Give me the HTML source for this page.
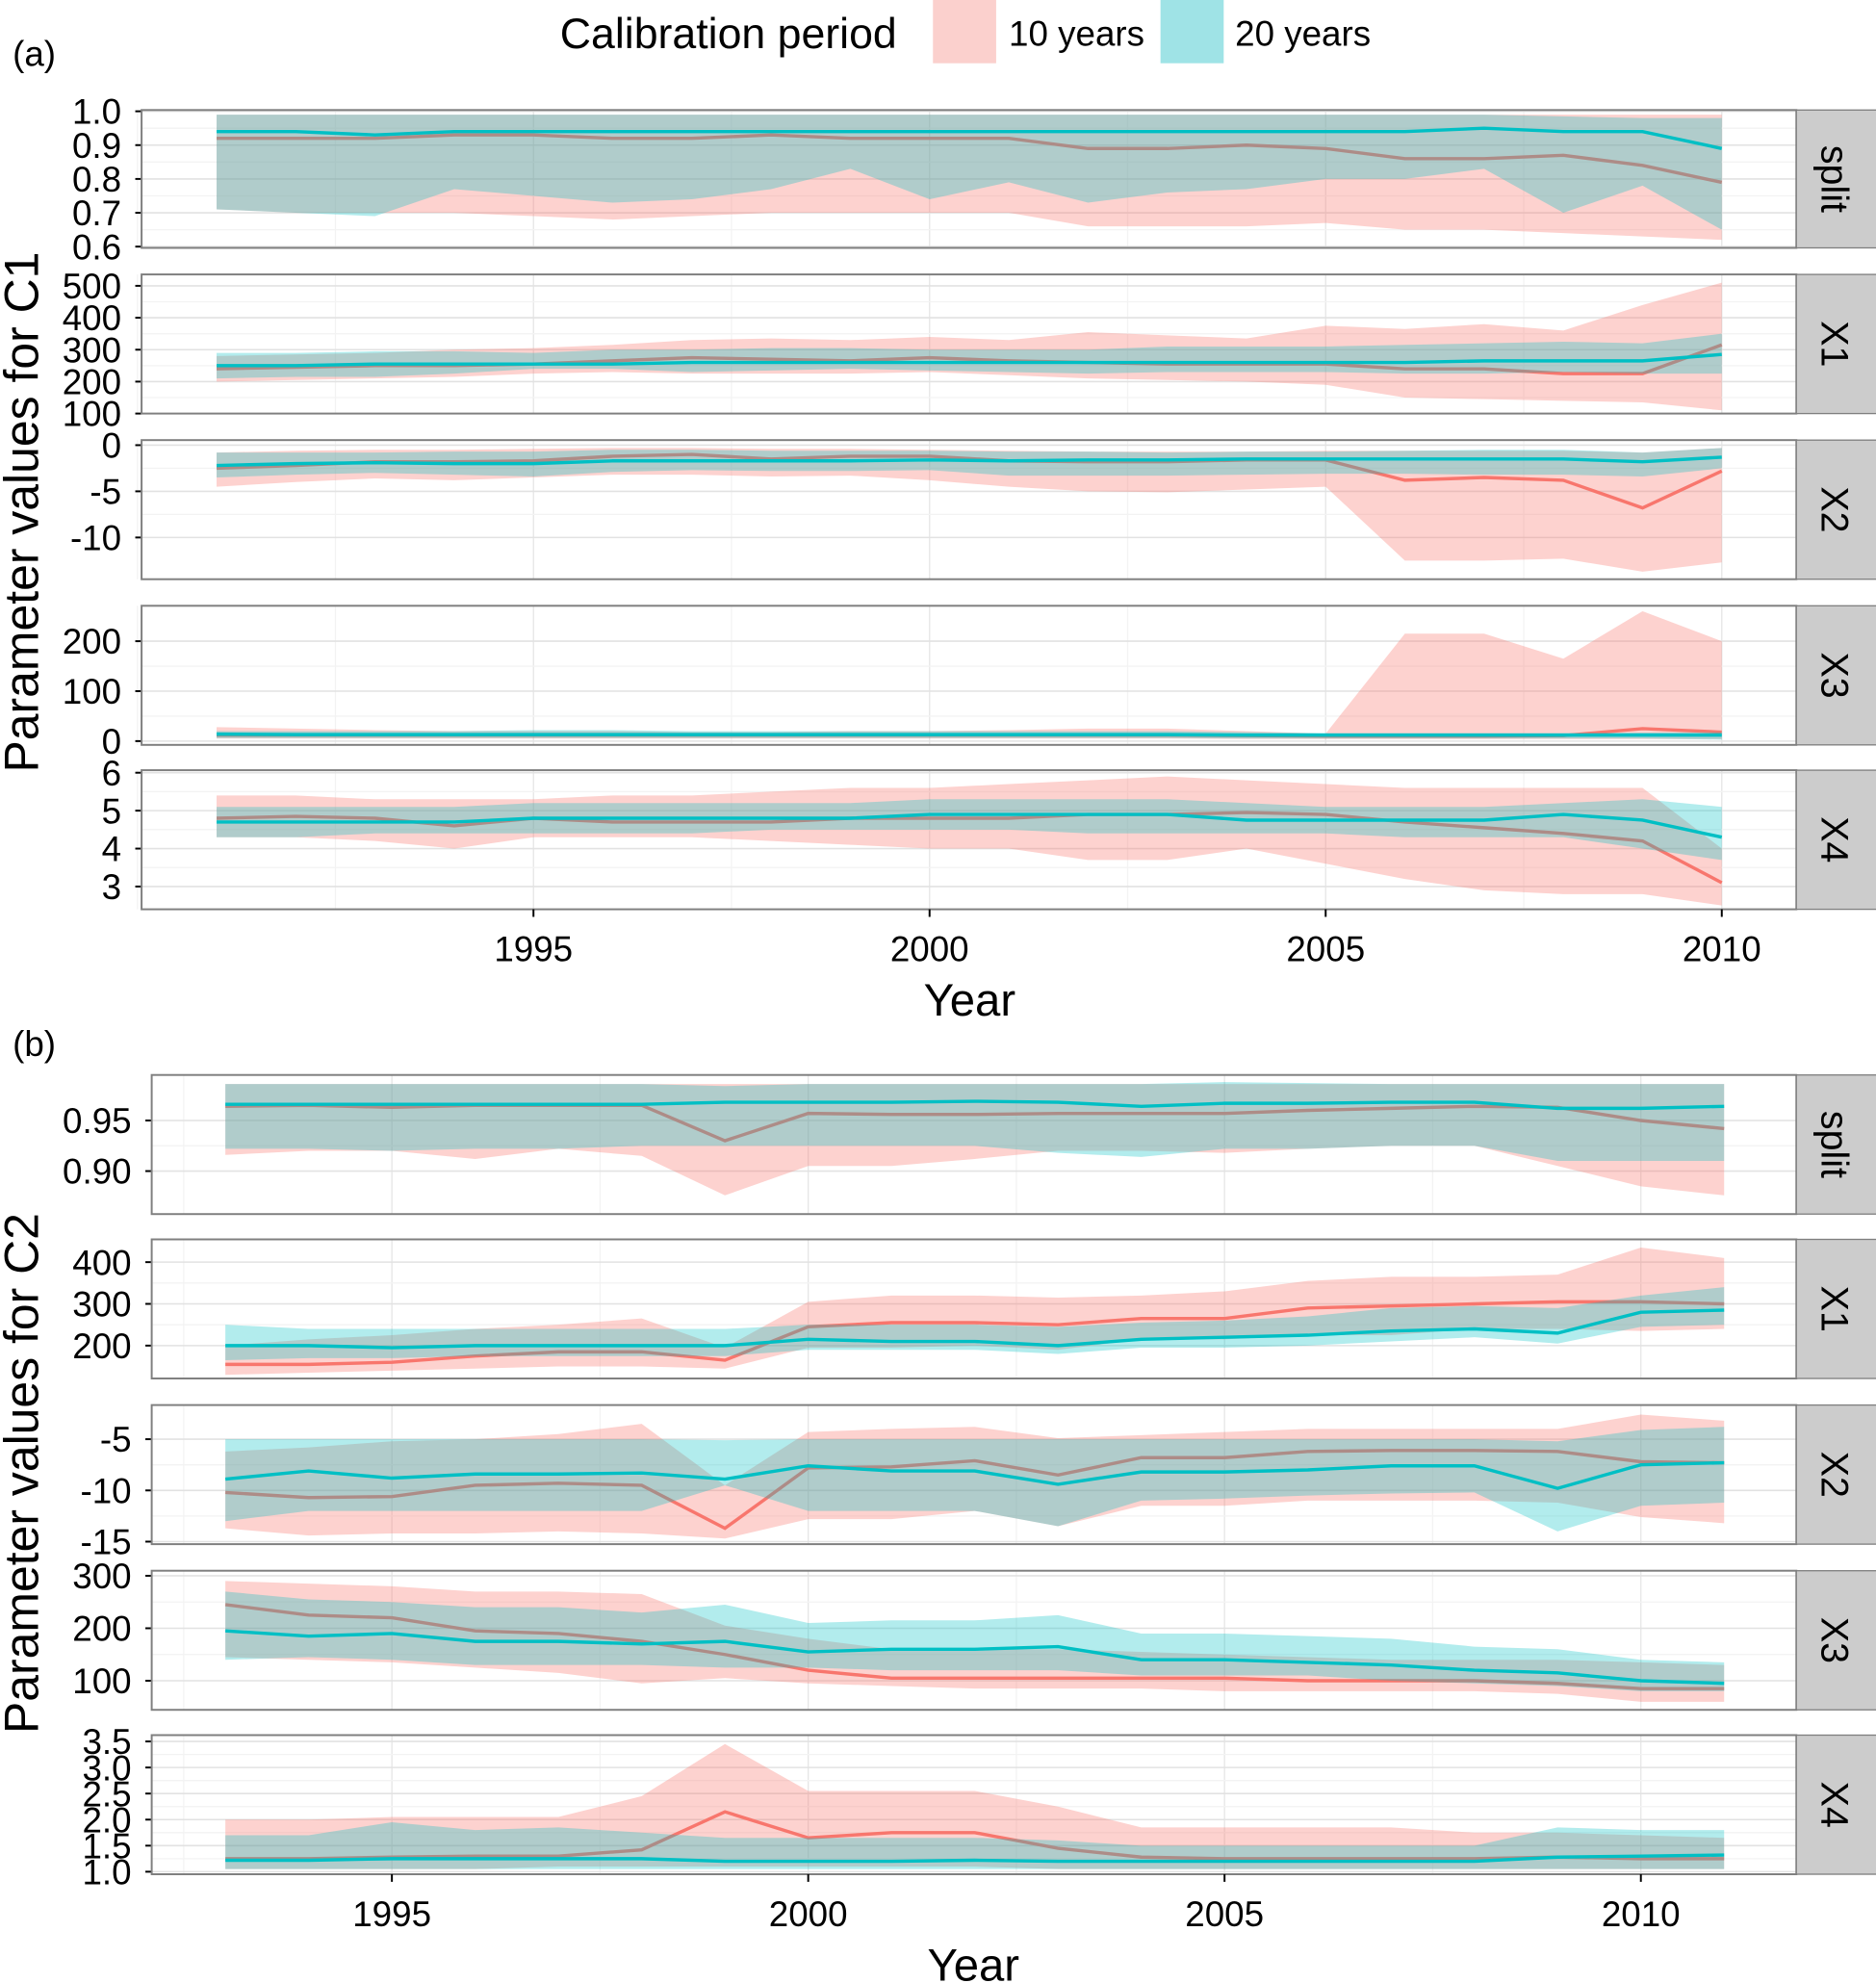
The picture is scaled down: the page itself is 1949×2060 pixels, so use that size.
<!DOCTYPE html>
<html><head><meta charset="utf-8"><style>
html,body{margin:0;padding:0;background:#fff}
svg{display:block}
text{font-family:"Liberation Sans",sans-serif;fill:#000}
</style></head><body>
<svg id="chart" width="1949" height="2060" viewBox="0 0 1484 1568" preserveAspectRatio="none" xmlns="http://www.w3.org/2000/svg">
<g>
<text x="443" y="38" font-size="34">Calibration period</text>
<rect x="738" y="0" width="50" height="50" fill="#fbd0cd"/>
<text x="798" y="36" font-size="28">10 years</text>
<rect x="918" y="0" width="50" height="50" fill="#9fe3e6"/>
<text x="977" y="36" font-size="28">20 years</text>
</g>
<text x="10" y="52" font-size="28">(a)</text>
<text x="10" y="835" font-size="28">(b)</text>
<text transform="translate(30,405) rotate(-90)" text-anchor="middle" font-size="38">Parameter values for C1</text>
<text transform="translate(30,1165) rotate(-90)" text-anchor="middle" font-size="38">Parameter values for C2</text>
<text x="767" y="803" text-anchor="middle" font-size="36">Year</text>
<text x="770" y="1566" text-anchor="middle" font-size="36">Year</text>
</svg>
<script>
// ---- Data (a): years 1991..2010 ----
const yearsA = [1991,1992,1993,1994,1995,1996,1997,1998,1999,2000,2001,2002,2003,2004,2005,2006,2007,2008,2009,2010];
const aSplitRed = [0.92,0.92,0.92,0.93,0.93,0.92,0.92,0.93,0.92,0.92,0.92,0.89,0.89,0.90,0.89,0.86,0.86,0.87,0.84,0.79];
const aSplitBlue = [0.94,0.94,0.93,0.94,0.94,0.94,0.94,0.94,0.94,0.94,0.94,0.94,0.94,0.94,0.94,0.94,0.95,0.94,0.94,0.89];
const aSplitRedHi = [0.99,0.99,0.99,0.99,0.99,0.99,0.99,0.99,0.99,0.99,0.99,0.99,0.99,0.99,0.99,0.99,0.99,0.99,0.99,0.99];
const aSplitRedLo = [0.71,0.70,0.70,0.70,0.69,0.68,0.69,0.70,0.70,0.70,0.70,0.66,0.66,0.66,0.67,0.65,0.65,0.64,0.63,0.62];
const aSplitBlueHi = [0.99,0.99,0.99,0.99,0.99,0.99,0.99,0.99,0.99,0.99,0.99,0.99,0.99,0.99,0.99,0.99,0.99,0.985,0.98,0.98];
const aSplitBlueLo = [0.71,0.70,0.69,0.77,0.75,0.73,0.74,0.77,0.83,0.74,0.79,0.73,0.76,0.77,0.80,0.80,0.83,0.70,0.78,0.65];

const aX1Red = [240,245,250,250,255,265,275,270,265,275,265,260,255,255,255,240,240,225,225,315];
const aX1Blue = [250,250,255,255,255,255,260,260,260,260,260,260,260,260,260,260,265,265,265,285];
const aX1RedHi = [280,285,290,300,305,315,330,335,330,340,330,355,345,335,375,365,380,360,440,510];
const aX1RedLo = [200,205,210,215,225,230,225,225,225,230,220,210,205,200,190,150,145,140,135,110];
const aX1BlueHi = [290,290,295,295,290,300,300,305,305,300,300,300,310,310,310,315,320,325,320,350];
const aX1BlueLo = [210,215,215,225,240,240,230,235,240,235,230,225,230,230,230,225,225,230,225,225];

const aX2Red = [-2.5,-2.2,-1.8,-1.8,-1.7,-1.2,-1.0,-1.5,-1.2,-1.2,-1.7,-1.8,-1.8,-1.6,-1.6,-3.8,-3.5,-3.8,-6.8,-2.8];
const aX2Blue = [-2.2,-2.0,-1.9,-2.0,-2.0,-1.7,-1.7,-1.7,-1.7,-1.6,-1.7,-1.6,-1.6,-1.5,-1.5,-1.5,-1.5,-1.5,-1.8,-1.3];
const aX2RedHi = [-0.8,-0.6,-0.5,-0.5,-0.4,-0.3,-0.3,-0.4,-0.4,-0.5,-0.6,-0.7,-0.7,-0.7,-0.6,-0.6,-0.6,-0.6,-0.8,-0.3];
const aX2RedLo = [-4.5,-4.0,-3.6,-3.8,-3.5,-3.2,-3.2,-3.4,-3.3,-3.8,-4.5,-5.0,-5.1,-4.8,-4.5,-12.5,-12.5,-12.3,-13.7,-12.7];
const aX2BlueHi = [-0.8,-0.8,-0.8,-0.7,-0.7,-0.5,-0.5,-0.6,-0.6,-0.6,-0.7,-0.7,-0.8,-0.7,-0.7,-0.6,-0.5,-0.5,-0.8,-0.3];
const aX2BlueLo = [-3.5,-3.2,-3.0,-3.2,-3.4,-2.9,-2.7,-2.8,-2.8,-2.7,-3.3,-3.3,-3.3,-3.2,-3.1,-3.1,-3.2,-3.2,-3.4,-2.5];

const aX3Red = [12,12,12,12,12,12,12,12,12,12,12,12,12,11,10,10,10,11,25,18];
const aX3Blue = [14,13,13,13,13,13,13,13,13,13,13,13,13,12,12,12,12,12,12,12];
const aX3RedHi = [28,25,22,20,20,20,18,18,20,20,22,25,25,20,15,215,215,165,260,200];
const aX3RedLo = [5,5,5,5,5,5,5,5,5,5,5,5,5,4,4,4,4,4,4,4];
const aX3BlueHi = [20,20,20,20,22,22,20,20,20,20,20,20,20,18,16,16,16,16,17,18];
const aX3BlueLo = [6,6,6,6,6,6,6,6,6,6,6,6,6,5,5,5,5,5,5,3];

const aX4Red = [4.8,4.85,4.8,4.6,4.8,4.7,4.7,4.7,4.8,4.8,4.8,4.9,4.9,4.95,4.9,4.7,4.55,4.4,4.2,3.1];
const aX4Blue = [4.7,4.7,4.7,4.7,4.8,4.8,4.8,4.8,4.8,4.9,4.9,4.9,4.9,4.75,4.75,4.75,4.75,4.9,4.75,4.3];
const aX4RedHi = [5.4,5.4,5.3,5.3,5.3,5.4,5.4,5.5,5.6,5.6,5.7,5.8,5.9,5.8,5.7,5.6,5.6,5.6,5.6,4.0];
const aX4RedLo = [4.3,4.3,4.2,4.0,4.3,4.3,4.3,4.2,4.1,4.0,4.0,3.7,3.7,4.0,3.6,3.2,2.9,2.8,2.8,2.5];
const aX4BlueHi = [5.1,5.1,5.1,5.1,5.2,5.2,5.2,5.2,5.2,5.3,5.3,5.3,5.3,5.2,5.1,5.1,5.1,5.2,5.3,5.1];
const aX4BlueLo = [4.3,4.3,4.4,4.4,4.4,4.4,4.4,4.5,4.5,4.5,4.5,4.4,4.4,4.4,4.4,4.3,4.3,4.3,4.0,3.7];

// ---- Data (b): years 1993..2011 ----
const yearsB = [1993,1994,1995,1996,1997,1998,1999,2000,2001,2002,2003,2004,2005,2006,2007,2008,2009,2010,2011];
const bSplitRed = [0.964,0.965,0.963,0.965,0.965,0.965,0.930,0.957,0.956,0.956,0.957,0.957,0.957,0.960,0.962,0.964,0.963,0.950,0.942];
const bSplitBlue = [0.966,0.966,0.966,0.966,0.966,0.966,0.968,0.968,0.968,0.969,0.968,0.964,0.967,0.967,0.968,0.968,0.962,0.962,0.964];
const bSplitRedHi = [0.986,0.986,0.986,0.986,0.986,0.986,0.986,0.986,0.986,0.986,0.986,0.986,0.986,0.986,0.986,0.986,0.986,0.986,0.986];
const bSplitRedLo = [0.916,0.920,0.920,0.912,0.922,0.915,0.876,0.905,0.905,0.912,0.920,0.920,0.918,0.922,0.925,0.925,0.905,0.885,0.876];
const bSplitBlueHi = [0.986,0.986,0.986,0.986,0.986,0.986,0.984,0.986,0.986,0.986,0.986,0.986,0.988,0.987,0.986,0.986,0.986,0.986,0.986];
const bSplitBlueLo = [0.922,0.922,0.920,0.922,0.922,0.925,0.925,0.925,0.925,0.925,0.918,0.914,0.922,0.922,0.925,0.925,0.910,0.910,0.910];

const bX1Red = [155,155,160,175,185,185,165,245,255,255,250,265,265,290,295,300,305,305,300];
const bX1Blue = [200,200,195,200,200,200,200,215,210,210,200,215,220,225,235,240,230,280,285];
const bX1RedHi = [200,215,225,240,250,265,195,305,320,320,315,320,330,355,365,365,370,435,410];
const bX1RedLo = [130,135,140,145,150,150,145,195,195,200,190,215,215,225,225,240,240,235,240];
const bX1BlueHi = [250,240,240,240,240,240,240,250,250,250,245,255,260,270,290,295,290,320,340];
const bX1BlueLo = [165,170,170,175,175,175,175,190,190,190,180,195,195,200,210,220,205,245,250];

const bX2Red = [-10.2,-10.7,-10.6,-9.5,-9.3,-9.5,-13.7,-7.8,-7.7,-7.1,-8.5,-6.8,-6.8,-6.2,-6.1,-6.1,-6.2,-7.2,-7.3];
const bX2Blue = [-8.9,-8.1,-8.8,-8.4,-8.4,-8.3,-8.9,-7.6,-8.1,-8.1,-9.4,-8.2,-8.2,-8.0,-7.6,-7.6,-9.8,-7.5,-7.3];
const bX2RedHi = [-6.2,-5.8,-5.2,-5.0,-4.5,-3.5,-9.5,-4.3,-4.0,-3.8,-4.9,-4.6,-4.3,-4.0,-4.0,-4.0,-4.0,-2.6,-3.2];
const bX2RedLo = [-13.7,-14.4,-14.2,-14.2,-14.0,-14.2,-14.7,-12.8,-12.8,-12.0,-13.5,-11.5,-11.5,-11.0,-11.0,-11.0,-11.2,-12.6,-13.2];
const bX2BlueHi = [-5.0,-5.0,-5.0,-5.0,-5.0,-5.0,-5.1,-5.0,-5.0,-5.0,-5.0,-5.0,-5.0,-5.0,-5.0,-5.0,-5.2,-4.1,-3.8];
const bX2BlueLo = [-13.0,-12.0,-12.0,-12.0,-12.0,-12.0,-9.5,-12.0,-12.0,-12.0,-13.5,-11.0,-10.8,-10.5,-10.3,-10.2,-14.0,-11.5,-11.2];

const bX3Red = [245,225,220,195,190,175,150,120,105,105,105,105,105,100,100,100,95,85,85];
const bX3Blue = [195,185,190,175,175,170,175,155,160,160,165,140,140,135,130,120,115,100,95];
const bX3RedHi = [290,285,280,270,270,265,205,180,160,160,160,155,150,145,140,140,140,135,130];
const bX3RedLo = [145,140,135,125,115,95,105,95,90,85,85,85,80,80,80,80,75,60,60];
const bX3BlueHi = [270,255,250,240,240,230,245,210,215,215,225,190,190,185,180,165,160,140,135];
const bX3BlueLo = [140,145,140,130,130,130,125,125,120,120,120,110,110,110,100,95,90,80,80];

const bX4Red = [1.25,1.25,1.28,1.3,1.3,1.42,2.15,1.65,1.75,1.75,1.45,1.28,1.25,1.25,1.25,1.25,1.28,1.25,1.25];
const bX4Blue = [1.22,1.22,1.25,1.25,1.25,1.25,1.2,1.2,1.2,1.22,1.2,1.2,1.2,1.2,1.2,1.2,1.28,1.3,1.32];
const bX4RedHi = [2.0,2.0,2.05,2.05,2.05,2.45,3.45,2.55,2.55,2.55,2.25,1.85,1.85,1.85,1.85,1.75,1.75,1.70,1.65];
const bX4RedLo = [1.05,1.05,1.05,1.05,1.1,1.1,1.1,1.1,1.1,1.1,1.05,1.05,1.05,1.05,1.05,1.05,1.05,1.05,1.05];
const bX4BlueHi = [1.7,1.7,1.95,1.8,1.85,1.75,1.65,1.65,1.65,1.65,1.6,1.5,1.5,1.5,1.5,1.5,1.85,1.8,1.8];
const bX4BlueLo = [1.05,1.05,1.05,1.05,1.05,1.05,1.05,1.05,1.05,1.05,1.05,1.05,1.05,1.05,1.05,1.05,1.05,1.05,1.05];

const xTicks = [1995,2000,2005,2010];
const aSplitTicks = [0.6,0.7,0.8,0.9,1.0];
const aX1Ticks = [100,200,300,400,500];
const aX2Ticks = [-10,-5,0];
const aX3Ticks = [0,100,200];
const aX4Ticks = [3,4,5,6];
const bSplitTicks = [0.90,0.95];
const bX1Ticks = [200,300,400];
const bX2Ticks = [-15,-10,-5];
const bX3Ticks = [100,200,300];
const bX4Ticks = [1.0,1.5,2.0,2.5,3.0,3.5];

const NS = "http://www.w3.org/2000/svg";
const svg = document.getElementById('chart');
function mk(tag, attrs, parent){const e=document.createElementNS(NS,tag);for(const k in attrs)e.setAttribute(k,attrs[k]);(parent||svg).appendChild(e);return e;}

function panel(cfg){
  const g = mk('g',{});
  
  
  const {x0,x1,y0,y1,xs,ys} = cfg;
  mk('rect',{x:x0,y:y0,width:x1-x0,height:y1-y0,fill:'#fff'},g);
  const gx=[]; for(let yr=cfg.xmin;yr<=cfg.xmax;yr+=2.5) gx.push(yr);
  gx.forEach(v=>{mk('line',{x1:xs(v),x2:xs(v),y1:y0,y2:y1,stroke:xTicks.includes(v)?'#e6e6e6':'#f3f3f3','stroke-width':1},g);});
  const t=cfg.ticks;
  for(let i=0;i<t.length-1;i++){const m=(t[i]+t[i+1])/2;mk('line',{x1:x0,x2:x1,y1:ys(m),y2:ys(m),stroke:'#f3f3f3','stroke-width':1},g);}
  t.forEach(v=>{
    mk('line',{x1:x0,x2:x1,y1:ys(v),y2:ys(v),stroke:'#e2e2e2','stroke-width':1.2},g);
    mk('line',{x1:x0-5,x2:x0,y1:ys(v),y2:ys(v),stroke:'#000','stroke-width':1.5},g);
    const tl=mk('text',{x:x0-16,y:ys(v)+10,'text-anchor':'end','font-size':28},g);
    tl.textContent = cfg.fmt(v);
    
    
  });
  const yrs=cfg.years;
  function band(hi,lo,fill,op,name){
    let d='M'+yrs.map((y,i)=>xs(y)+','+ys(hi[i])).join('L');
    d+='L'+yrs.slice().reverse().map((y,k)=>xs(y)+','+ys(lo[yrs.length-1-k])).join('L')+'Z';
    const p=mk('path',{d:d,fill:fill,'fill-opacity':op},g);
    
    
  }
  function line(v,col,name){
    const p=mk('path',{d:'M'+yrs.map((y,i)=>xs(y)+','+ys(v[i])).join('L'),fill:'none',stroke:col,'stroke-width':2.6},g);
    
    
  }
  band(cfg.rh,cfg.rl,'#F8766D',0.33,'ribbon-10-years');
  line(cfg.r,'#F8766D','line-10-years');
  band(cfg.bh,cfg.bl,'#00BFC4',0.3,'ribbon-20-years');
  line(cfg.b,'#00BFC4','line-20-years');
  mk('rect',{x:x0,y:y0,width:x1-x0,height:y1-y0,fill:'none',stroke:'#7f7f7f','stroke-width':1.5},g);
  const s=mk('rect',{x:x1,y:y0,width:1484-x1+2,height:y1-y0,fill:'#cccccc',stroke:'#7f7f7f','stroke-width':1},g);
  
  
  const st=mk('text',{transform:'translate('+(x1+20)+','+((y0+y1)/2)+') rotate(90)','text-anchor':'middle','font-size':30},g);
  st.textContent=cfg.label;
  
  
}

function lin(d0,d1,r0,r1){return v=>r0+(v-d0)*(r1-r0)/(d1-d0);}
const xsA = lin(1995,2010,422,1362);
const xsB = lin(1995,2010,310,1298);
const f1=v=>v.toFixed(1), f2=v=>v.toFixed(2), f0=v=>String(v);
const A={x0:112,x1:1421,xs:xsA,years:yearsA,xmin:1990,xmax:2012.5};
const B={x0:120,x1:1421,xs:xsB,years:yearsB,xmin:1992.5,xmax:2012.5};
const panels=[
 Object.assign({},A,{id:'a-split',label:'split',y0:87,y1:196,ys:lin(0.6,1.0,195,88),ticks:aSplitTicks,fmt:f1,r:aSplitRed,b:aSplitBlue,rh:aSplitRedHi,rl:aSplitRedLo,bh:aSplitBlueHi,bl:aSplitBlueLo}),
 Object.assign({},A,{id:'a-x1',label:'X1',y0:217,y1:327,ys:lin(100,500,327,226),ticks:aX1Ticks,fmt:f0,r:aX1Red,b:aX1Blue,rh:aX1RedHi,rl:aX1RedLo,bh:aX1BlueHi,bl:aX1BlueLo}),
 Object.assign({},A,{id:'a-x2',label:'X2',y0:348,y1:458,ys:lin(-10,0,425,352),ticks:aX2Ticks,fmt:f0,r:aX2Red,b:aX2Blue,rh:aX2RedHi,rl:aX2RedLo,bh:aX2BlueHi,bl:aX2BlueLo}),
 Object.assign({},A,{id:'a-x3',label:'X3',y0:479,y1:589,ys:lin(0,200,586,507),ticks:aX3Ticks,fmt:f0,r:aX3Red,b:aX3Blue,rh:aX3RedHi,rl:aX3RedLo,bh:aX3BlueHi,bl:aX3BlueLo}),
 Object.assign({},A,{id:'a-x4',label:'X4',y0:609,y1:719,ys:lin(3,6,701,611),ticks:aX4Ticks,fmt:f0,r:aX4Red,b:aX4Blue,rh:aX4RedHi,rl:aX4RedLo,bh:aX4BlueHi,bl:aX4BlueLo}),
 Object.assign({},B,{id:'b-split',label:'split',y0:850,y1:960,ys:lin(0.90,0.95,926,886),ticks:bSplitTicks,fmt:f2,r:bSplitRed,b:bSplitBlue,rh:bSplitRedHi,rl:bSplitRedLo,bh:bSplitBlueHi,bl:bSplitBlueLo}),
 Object.assign({},B,{id:'b-x1',label:'X1',y0:980,y1:1090,ys:lin(200,400,1064,998),ticks:bX1Ticks,fmt:f0,r:bX1Red,b:bX1Blue,rh:bX1RedHi,rl:bX1RedLo,bh:bX1BlueHi,bl:bX1BlueLo}),
 Object.assign({},B,{id:'b-x2',label:'X2',y0:1111,y1:1221,ys:lin(-15,-5,1219,1138),ticks:bX2Ticks,fmt:f0,r:bX2Red,b:bX2Blue,rh:bX2RedHi,rl:bX2RedLo,bh:bX2BlueHi,bl:bX2BlueLo}),
 Object.assign({},B,{id:'b-x3',label:'X3',y0:1242,y1:1352,ys:lin(100,300,1329,1246),ticks:bX3Ticks,fmt:f0,r:bX3Red,b:bX3Blue,rh:bX3RedHi,rl:bX3RedLo,bh:bX3BlueHi,bl:bX3BlueLo}),
 Object.assign({},B,{id:'b-x4',label:'X4',y0:1372,y1:1482,ys:lin(1.0,3.5,1480,1377),ticks:bX4Ticks,fmt:f1,r:bX4Red,b:bX4Blue,rh:bX4RedHi,rl:bX4RedLo,bh:bX4BlueHi,bl:bX4BlueLo})
];
panels.forEach(panel);

function xAxis(xs,y,ly,name){
  xTicks.forEach(v=>{
    mk('line',{x1:xs(v),x2:xs(v),y1:y,y2:y+6,stroke:'#000','stroke-width':1.5});
    const t=mk('text',{x:xs(v),y:ly,'text-anchor':'middle','font-size':28});
    t.textContent=String(v);
    
    
  });
}
xAxis(xsA,719,760,'x-tick-label-a');
xAxis(xsB,1482,1523,'x-tick-label-b');
</script>
</body></html>
